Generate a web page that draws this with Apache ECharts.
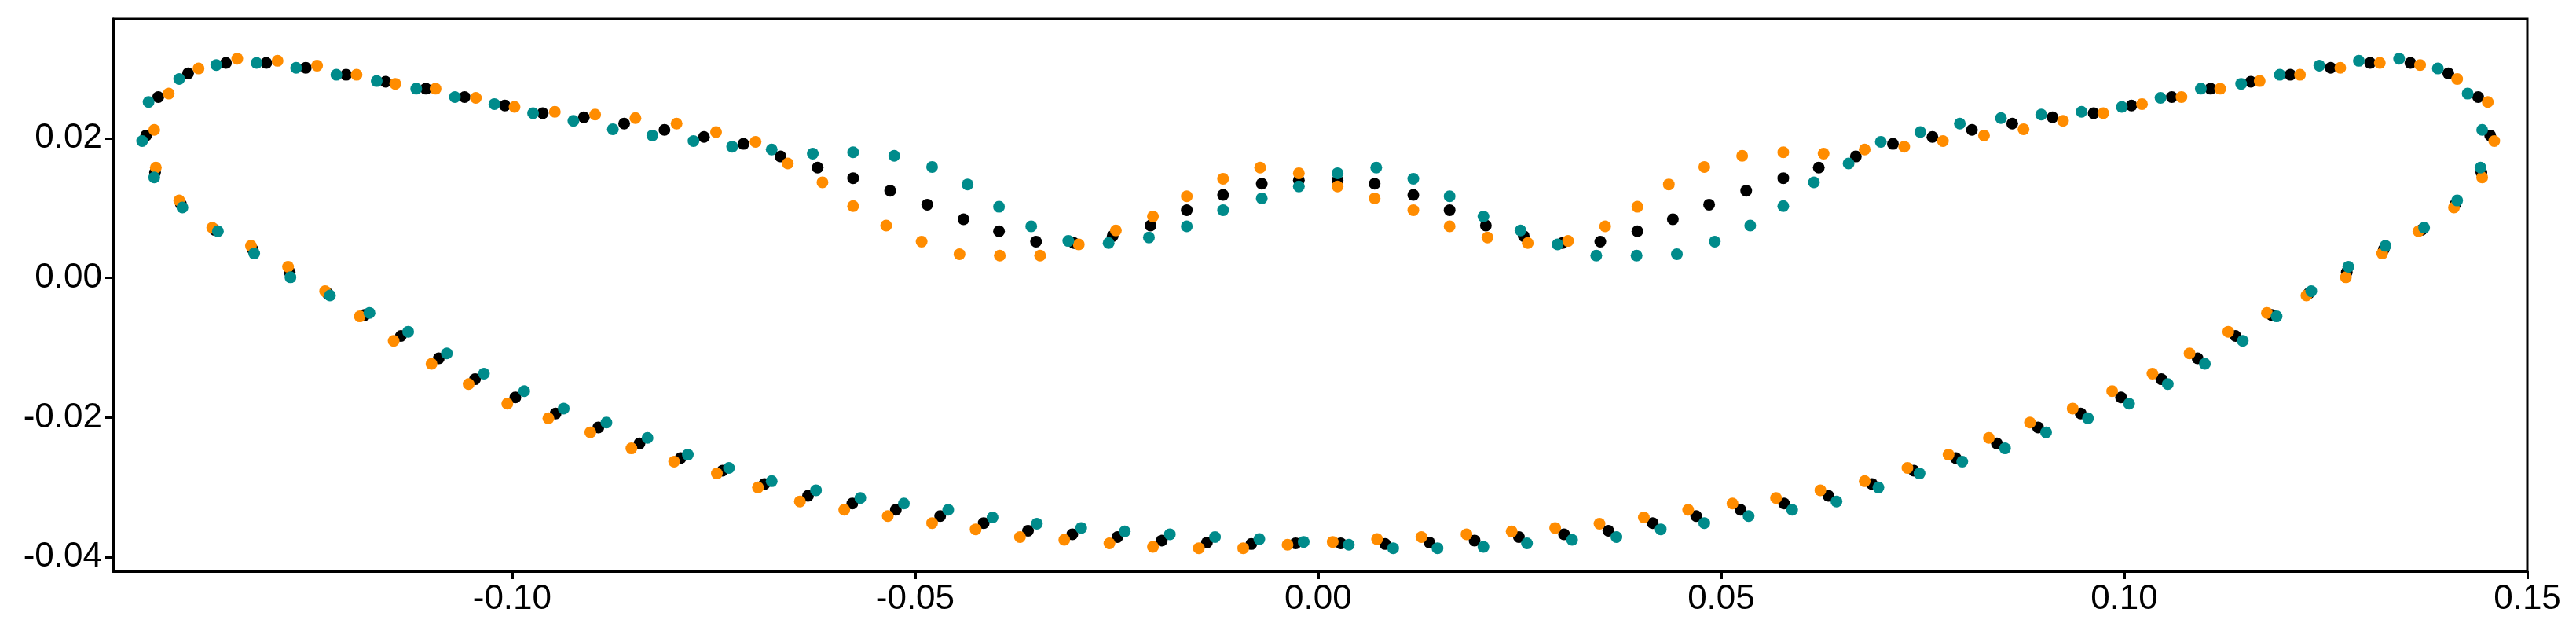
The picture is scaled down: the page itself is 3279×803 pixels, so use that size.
<!DOCTYPE html>
<html>
<head>
<meta charset="utf-8">
<script src="https://cdn.jsdelivr.net/npm/echarts@6/dist/echarts.min.js"></script>
<style>
  html, body { margin: 0; padding: 0; background: #fff; }
  #chart { width: 3279px; height: 803px; }
</style>
</head>
<body>
<div id="chart"></div>
<script>
// tick labels
const xTicks = [-0.10, -0.05, 0.00, 0.05, 0.10, 0.15];
const yTicks = [-0.04, -0.02, 0.00, 0.02];

// reference contour (black)
const blackPts = [
  [-0.1454,0.0204],[-0.1439,0.0259],[-0.1402,0.0293],[-0.1355,0.0308],[-0.1305,0.0308],[-0.1256,0.0301],
  [-0.1206,0.0291],[-0.1157,0.0281],[-0.1107,0.0271],[-0.1059,0.0259],[-0.1009,0.0247],[-0.0962,0.0236],
  [-0.0911,0.0230],[-0.0861,0.0221],[-0.0811,0.0212],[-0.0762,0.0202],[-0.0713,0.0192],[-0.0667,0.0174],
  [-0.0621,0.0158],[-0.0577,0.0143],[-0.0531,0.0125],[-0.0485,0.0105],[-0.0440,0.0084],[-0.0396,0.0067],
  [-0.0350,0.0052],[-0.0303,0.0050],[-0.0255,0.0060],[-0.0208,0.0075],[-0.0163,0.0097],[-0.0118,0.0119],
  [-0.0070,0.0135],[-0.0024,0.0140],
  [0.0024,0.0140],[0.0070,0.0135],[0.0118,0.0119],[0.0163,0.0097],[0.0208,0.0075],[0.0255,0.0060],
  [0.0303,0.0050],[0.0350,0.0052],[0.0396,0.0067],[0.0440,0.0084],[0.0485,0.0105],[0.0531,0.0125],
  [0.0577,0.0143],[0.0621,0.0158],[0.0667,0.0174],[0.0713,0.0192],[0.0762,0.0202],[0.0811,0.0212],
  [0.0861,0.0221],[0.0911,0.0230],[0.0962,0.0236],[0.1009,0.0247],[0.1059,0.0259],[0.1107,0.0271],
  [0.1157,0.0281],[0.1206,0.0291],[0.1256,0.0301],[0.1305,0.0308],[0.1355,0.0308],[0.1402,0.0293],
  [0.1439,0.0259],[0.1454,0.0204],
  [-0.1443,0.0151],[-0.1411,0.0106],[-0.1369,0.0069],[-0.1322,0.0041],[-0.1276,0.0008],[-0.1229,-0.0022],
  [-0.1183,-0.0053],[-0.1138,-0.0083],[-0.1091,-0.0115],[-0.1046,-0.0145],[-0.0996,-0.0171],[-0.0946,-0.0194],
  [-0.0893,-0.0214],[-0.0842,-0.0237],[-0.0791,-0.0258],[-0.0739,-0.0276],[-0.0687,-0.0295],[-0.0633,-0.0312],
  [-0.0578,-0.0323],[-0.0524,-0.0332],[-0.0469,-0.0341],[-0.0415,-0.0351],[-0.0360,-0.0362],[-0.0305,-0.0367],
  [-0.0249,-0.0371],[-0.0194,-0.0376],[-0.0138,-0.0379],[-0.0083,-0.0381],[-0.0028,-0.0380],
  [0.0028,-0.0380],[0.0083,-0.0381],[0.0138,-0.0379],[0.0194,-0.0376],[0.0249,-0.0371],[0.0305,-0.0367],
  [0.0360,-0.0362],[0.0415,-0.0351],[0.0469,-0.0341],[0.0524,-0.0332],[0.0578,-0.0323],[0.0633,-0.0312],
  [0.0687,-0.0295],[0.0739,-0.0276],[0.0791,-0.0258],[0.0842,-0.0237],[0.0893,-0.0214],[0.0946,-0.0194],
  [0.0996,-0.0171],[0.1046,-0.0145],[0.1091,-0.0115],[0.1138,-0.0083],[0.1183,-0.0053],[0.1229,-0.0022],
  [0.1276,0.0008],[0.1322,0.0041],[0.1369,0.0069],[0.1411,0.0106],[0.1443,0.0151]
];

const orangePts = [
  [-0.1444,0.0212],[-0.1426,0.0264],[-0.1389,0.0300],[-0.1341,0.0314],[-0.1291,0.0311],[-0.1242,0.0304],
  [-0.1193,0.0291],[-0.1145,0.0278],[-0.1095,0.0271],[-0.1045,0.0258],[-0.0997,0.0245],[-0.0947,0.0238],
  [-0.0897,0.0234],[-0.0847,0.0229],[-0.0796,0.0221],[-0.0747,0.0209],[-0.0698,0.0195],[-0.0658,0.0164],
  [-0.0615,0.0137],[-0.0577,0.0103],[-0.0536,0.0075],[-0.0492,0.0052],[-0.0445,0.0034],[-0.0395,0.0032],
  [-0.0345,0.0032],[-0.0297,0.0048],[-0.0251,0.0068],[-0.0205,0.0088],[-0.0163,0.0117],[-0.0118,0.0142],
  [-0.0072,0.0158],[-0.0024,0.0150],
  [0.0024,0.0131],[0.0070,0.0114],[0.0118,0.0097],[0.0163,0.0074],[0.0210,0.0058],[0.0260,0.0050],
  [0.0310,0.0053],[0.0356,0.0074],[0.0396,0.0102],[0.0435,0.0134],[0.0479,0.0159],[0.0526,0.0175],
  [0.0577,0.0180],[0.0627,0.0178],[0.0678,0.0184],[0.0727,0.0188],[0.0775,0.0196],[0.0826,0.0204],
  [0.0875,0.0213],[0.0924,0.0225],[0.0974,0.0236],[0.1022,0.0249],[0.1071,0.0259],[0.1119,0.0271],
  [0.1168,0.0282],[0.1218,0.0291],[0.1268,0.0301],[0.1317,0.0308],[0.1367,0.0305],[0.1413,0.0285],
  [0.1451,0.0252],[0.1459,0.0196],
  [-0.1442,0.0158],[-0.1413,0.0111],[-0.1372,0.0072],[-0.1324,0.0046],[-0.1278,0.0016],[-0.1232,-0.0019],
  [-0.1189,-0.0055],[-0.1147,-0.0090],[-0.1100,-0.0123],[-0.1054,-0.0152],[-0.1006,-0.0180],[-0.0955,-0.0201],
  [-0.0903,-0.0221],[-0.0852,-0.0244],[-0.0799,-0.0263],[-0.0746,-0.0280],[-0.0695,-0.0300],[-0.0643,-0.0320],
  [-0.0588,-0.0332],[-0.0534,-0.0341],[-0.0479,-0.0351],[-0.0425,-0.0360],[-0.0370,-0.0371],[-0.0315,-0.0375],
  [-0.0259,-0.0380],[-0.0205,-0.0385],[-0.0148,-0.0387],[-0.0093,-0.0387],[-0.0038,-0.0382],
  [0.0018,-0.0378],[0.0073,-0.0374],[0.0128,-0.0371],[0.0184,-0.0367],[0.0240,-0.0363],[0.0294,-0.0358],
  [0.0349,-0.0352],[0.0404,-0.0343],[0.0459,-0.0332],[0.0514,-0.0323],[0.0568,-0.0315],[0.0623,-0.0304],
  [0.0678,-0.0291],[0.0731,-0.0272],[0.0782,-0.0253],[0.0832,-0.0229],[0.0883,-0.0207],[0.0936,-0.0187],
  [0.0985,-0.0162],[0.1035,-0.0137],[0.1081,-0.0108],[0.1129,-0.0077],[0.1177,-0.0050],[0.1226,-0.0025],
  [0.1275,0.0001],[0.1320,0.0035],[0.1365,0.0067],[0.1409,0.0101],[0.1444,0.0144]
];

const tealPts = [
  [-0.1459,0.0196],[-0.1451,0.0252],[-0.1413,0.0285],[-0.1367,0.0305],[-0.1317,0.0308],[-0.1268,0.0301],
  [-0.1218,0.0291],[-0.1168,0.0282],[-0.1119,0.0271],[-0.1071,0.0259],[-0.1022,0.0249],[-0.0974,0.0236],
  [-0.0924,0.0225],[-0.0875,0.0213],[-0.0826,0.0204],[-0.0775,0.0196],[-0.0727,0.0188],[-0.0678,0.0184],
  [-0.0627,0.0178],[-0.0577,0.0180],[-0.0526,0.0175],[-0.0479,0.0159],[-0.0435,0.0134],[-0.0396,0.0102],
  [-0.0356,0.0074],[-0.0310,0.0053],[-0.0260,0.0050],[-0.0210,0.0058],[-0.0163,0.0074],[-0.0118,0.0097],
  [-0.0070,0.0114],[-0.0024,0.0131],
  [0.0024,0.0150],[0.0072,0.0158],[0.0118,0.0142],[0.0163,0.0117],[0.0205,0.0088],[0.0251,0.0068],
  [0.0297,0.0048],[0.0345,0.0032],[0.0395,0.0032],[0.0445,0.0034],[0.0492,0.0052],[0.0536,0.0075],
  [0.0577,0.0103],[0.0615,0.0137],[0.0658,0.0164],[0.0698,0.0195],[0.0747,0.0209],[0.0796,0.0221],
  [0.0847,0.0229],[0.0897,0.0234],[0.0947,0.0238],[0.0997,0.0245],[0.1045,0.0258],[0.1095,0.0271],
  [0.1145,0.0278],[0.1193,0.0291],[0.1242,0.0304],[0.1291,0.0311],[0.1341,0.0314],[0.1389,0.0300],
  [0.1426,0.0264],[0.1444,0.0212],
  [-0.1444,0.0144],[-0.1409,0.0101],[-0.1365,0.0067],[-0.1320,0.0035],[-0.1275,0.0001],[-0.1226,-0.0025],
  [-0.1177,-0.0050],[-0.1129,-0.0077],[-0.1081,-0.0108],[-0.1035,-0.0137],[-0.0985,-0.0162],[-0.0936,-0.0187],
  [-0.0883,-0.0207],[-0.0832,-0.0229],[-0.0782,-0.0253],[-0.0731,-0.0272],[-0.0678,-0.0291],[-0.0623,-0.0304],
  [-0.0568,-0.0315],[-0.0514,-0.0323],[-0.0459,-0.0332],[-0.0404,-0.0343],[-0.0349,-0.0352],[-0.0294,-0.0358],
  [-0.0240,-0.0363],[-0.0184,-0.0367],[-0.0128,-0.0371],[-0.0073,-0.0374],[-0.0018,-0.0378],
  [0.0038,-0.0382],[0.0093,-0.0387],[0.0148,-0.0387],[0.0205,-0.0385],[0.0259,-0.0380],[0.0315,-0.0375],
  [0.0370,-0.0371],[0.0425,-0.0360],[0.0479,-0.0351],[0.0534,-0.0341],[0.0588,-0.0332],[0.0643,-0.0320],
  [0.0695,-0.0300],[0.0746,-0.0280],[0.0799,-0.0263],[0.0852,-0.0244],[0.0903,-0.0221],[0.0955,-0.0201],
  [0.1006,-0.0180],[0.1054,-0.0152],[0.1100,-0.0123],[0.1147,-0.0090],[0.1189,-0.0055],[0.1232,-0.0019],
  [0.1278,0.0016],[0.1324,0.0046],[0.1372,0.0072],[0.1413,0.0111],[0.1442,0.0158]
];

const chart = echarts.init(document.getElementById('chart'), null, { renderer: 'canvas' });

const labelStyle = { fontFamily: 'Liberation Sans, Arial, sans-serif', fontSize: 44, color: '#000' };

function dots(name, data, color) {
  return {
    name, type: 'scatter', data,
    symbol: 'circle', symbolSize: 15,
    itemStyle: { color, opacity: 1 },
    emphasis: { disabled: true },
    animation: false
  };
}

chart.setOption({
  backgroundColor: '#fff',
  animation: false,
  grid: { left: 144, right: 62, top: 24, bottom: 76, show: true, borderColor: '#000', borderWidth: 3 },
  xAxis: {
    type: 'value', min: -0.1495, max: 0.15,
    splitLine: { show: false },
    axisLine: { show: true, onZero: false, lineStyle: { color: '#000', width: 3 } },
    axisTick: { show: true, length: 10, lineStyle: { color: '#000', width: 3 }, customValues: xTicks },
    axisLabel: Object.assign({ margin: 14, customValues: xTicks, formatter: v => v.toFixed(2) }, labelStyle)
  },
  yAxis: {
    type: 'value', min: -0.042, max: 0.0371,
    splitLine: { show: false },
    axisLine: { show: true, onZero: false, lineStyle: { color: '#000', width: 3 } },
    axisTick: { show: true, length: 10, lineStyle: { color: '#000', width: 3 }, customValues: yTicks },
    axisLabel: Object.assign({ margin: 14, customValues: yTicks, formatter: v => v.toFixed(2) }, labelStyle)
  },
  series: [
    dots('base', blackPts, '#000000'),
    dots('plus', orangePts, '#FF8C00'),
    dots('minus', tealPts, '#008B8B')
  ]
});
</script>
</body>
</html>
